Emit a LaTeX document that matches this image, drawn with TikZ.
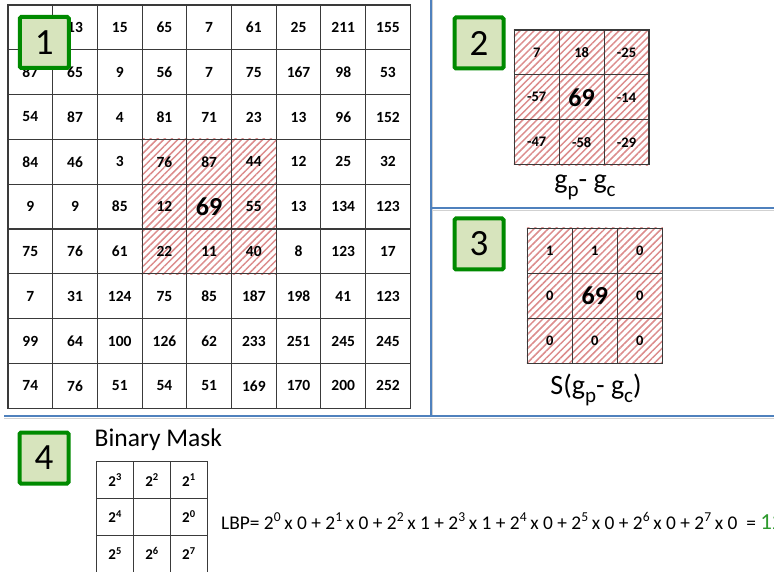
\documentclass[tikz,border=0pt]{standalone}
\usepackage{fontspec}
\setmainfont{Carlito}
\usetikzlibrary{patterns.meta,backgrounds}
\definecolor{boxgreen}{HTML}{008A00}
\definecolor{boxfill}{HTML}{D7E4BD}
\definecolor{sepblue}{HTML}{4F81BD}
\definecolor{hatchred}{HTML}{DC8C8C}
\definecolor{gridline}{HTML}{3A3A3A}
\definecolor{resgreen}{HTML}{2E9A2E}
\newcommand\bigval[1]{{\fontsize{26}{26}\selectfont #1}}
\newcommand\pw[1]{\textbf{2\textsuperscript{#1}}}
\newcommand\lowsub[1]{\raisebox{-0.28em}{\fontsize{21}{21}\selectfont #1}}
\begin{document}
\begin{tikzpicture}[x=1pt,y=-1pt,
  cellA/.style={draw=gridline,line width=1.1pt,minimum width=44.7pt,minimum height=44.8pt,inner sep=0pt,font=\fontsize{15.5}{16}\selectfont\bfseries},
  cellB/.style={draw=gridline,line width=1.1pt,minimum width=44.9pt,minimum height=44.9pt,inner sep=0pt,font=\fontsize{14.5}{15}\selectfont\bfseries},
  cellM/.style={draw=gridline,line width=0.9pt,minimum width=36.9pt,minimum height=36.8pt,inner sep=0pt,font=\fontsize{15}{15}\selectfont},
  hatchfill/.style={pattern={Lines[angle=45,distance=5pt,line width=1.5pt]},pattern color=hatchred},
  numbox/.style={draw=boxgreen,fill=boxfill,line width=4pt,rounded corners=1.5pt,minimum width=49pt,minimum height=51pt,inner sep=0pt,font=\fontsize{37}{37}\selectfont},
  sep/.style={draw=sepblue,line width=2pt},
  sepshadow/.style={draw=black!18,line width=1pt},
  caption/.style={font=\fontsize{28}{28}\selectfont,inner sep=0pt}
]
\useasboundingbox (0,0) rectangle (774,572);
\begin{scope}[on background layer]
  \fill[white] (0,0) rectangle (774,572);
\end{scope}

% separators
\draw[sepshadow] (4,418) -- (774,418);
\draw[sepshadow] (432.7,0) -- (432.7,415.7);
\draw[sepshadow] (432.7,210.5) -- (774,210.5);
\draw[sep] (4,415.7) -- (774,415.7);
\draw[sep] (430.7,0) -- (430.7,415.7);
\draw[sep] (430.7,208.3) -- (774,208.3);

% panel 1: image grid
\foreach \row [count=\r from 0] in {
  {,13,15,65,7,61,25,211,155},
  {87,65,9,56,7,75,167,98,53},
  {54,87,4,81,71,23,13,96,152},
  {84,46,3,76,87,44,12,25,32},
  {9,9,85,12,\bigval{69},55,13,134,123},
  {75,76,61,22,11,40,8,123,17},
  {7,31,124,75,85,187,198,41,123},
  {99,64,100,126,62,233,251,245,245},
  {74,76,51,54,51,169,170,200,252}} {
  \foreach \v [count=\c from 0] in \row {
    \node[cellA] (a-\r-\c) at ({8+44.7*(\c+0.5)},{5+44.8*(\r+0.5)}) {\v};
  }
}
\begin{scope}[on background layer]
  \fill[hatchfill] (a-3-3.north west) rectangle (a-5-5.south east);
\end{scope}
\node[numbox] (box1) at (44.3,42.5) {1};

% panel 2: differences
\foreach \row [count=\r from 0] in {{7,18,-25},{-57,\bigval{69},-14},{-47,-58,-29}} {
  \foreach \v [count=\c from 0] in \row {
    \node[cellB] (b-\r-\c) at ({514.3+44.9*(\c+0.5)},{30+44.9*(\r+0.5)}) {\v};
  }
}
\begin{scope}[on background layer]
  \fill[hatchfill] (b-0-0.north west) rectangle (b-2-2.south east);
\end{scope}
\node[numbox] (box2) at (479,43) {2};
\node[caption] (cap2) at (585,187) {g\lowsub{p}- g\lowsub{c}};

% panel 3: thresholded
\foreach \row [count=\r from 0] in {{1,1,0},{0,\bigval{69},0},{0,0,0}} {
  \foreach \v [count=\c from 0] in \row {
    \node[cellB] (c-\r-\c) at ({527.3+45*(\c+0.5)},{228.3+45*(\r+0.5)}) {\v};
  }
}
\begin{scope}[on background layer]
  \fill[hatchfill] (c-0-0.north west) rectangle (c-2-2.south east);
\end{scope}
\node[numbox] (box3) at (479,244) {3};
\node[caption] (cap3) at (596,390) {S(g\lowsub{p}- g\lowsub{c})};

% panel 4: binary mask and LBP
\node[numbox] (box4) at (44,458) {4};
\node[anchor=west,inner sep=0pt,font=\fontsize{25.5}{25.5}\selectfont] (bm) at (94.5,440) {Binary Mask};
\foreach \row [count=\r from 0] in {{\pw{3},\pw{2},\pw{1}},{\pw{4},,\pw{0}},{\pw{5},\pw{6},\pw{7}}} {
  \foreach \v [count=\c from 0] in \row {
    \node[cellM] (m-\r-\c) at ({96.7+36.9*(\c+0.5)},{461.7+36.8*(\r+0.5)}) {\v};
  }
}
\node[anchor=west,inner sep=0pt,font=\fontsize{19.4}{19.4}\selectfont] (lbp) at (221,521)
  {LBP= 2\textsuperscript{0}\,x 0 + 2\textsuperscript{1}\,x 0 + 2\textsuperscript{2}\,x 1 + 2\textsuperscript{3}\,x 1 + 2\textsuperscript{4}\,x 0 + 2\textsuperscript{5}\,x 0 + 2\textsuperscript{6}\,x 0 + 2\textsuperscript{7}\,x 0 ~= {\color{resgreen}\fontsize{23}{23}\selectfont 12}};
\end{tikzpicture}
\end{document}
